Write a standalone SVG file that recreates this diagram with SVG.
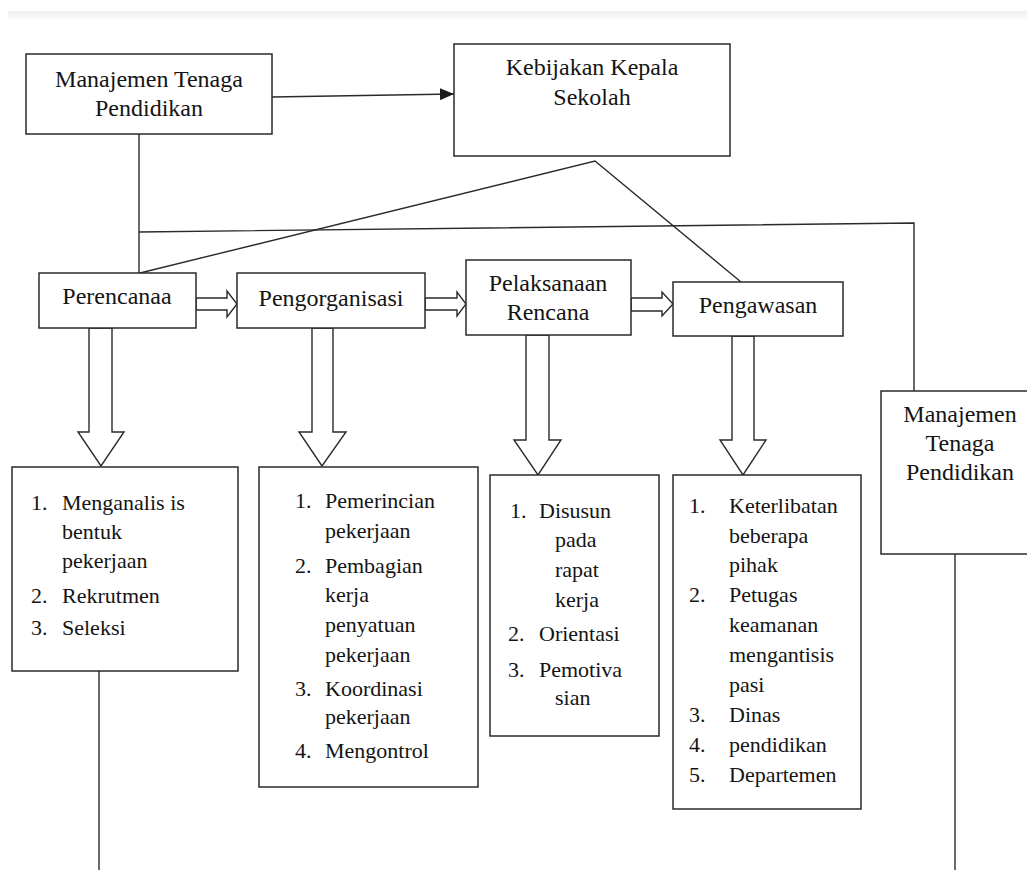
<svg xmlns="http://www.w3.org/2000/svg" width="1027" height="870" viewBox="0 0 1027 870">
<style>
.box{fill:#fff;stroke:#2a2a2a;stroke-width:1.5}
.ln{fill:none;stroke:#2a2a2a;stroke-width:1.4}
.ha{fill:#fff;stroke:#2a2a2a;stroke-width:1.4;stroke-linejoin:miter}
.lbl{font-family:'Liberation Serif','Times New Roman',serif;font-size:24px;fill:#141414;text-anchor:middle}
.li{font-family:'Liberation Serif','Times New Roman',serif;font-size:22px;fill:#141414}
</style>
<defs>
<linearGradient id="band" x1="0" y1="0" x2="0" y2="1">
<stop offset="0" stop-color="#efefef"/>
<stop offset="1" stop-color="#ffffff"/>
</linearGradient>
<marker id="ah" markerWidth="14" markerHeight="12" refX="14" refY="6" orient="auto" markerUnits="userSpaceOnUse">
<path d="M0,0 L14,6 L0,12 Z" fill="#1a1a1a"/>
</marker>
</defs>
<rect x="0" y="0" width="1027" height="870" fill="#fff"/>
<rect x="8" y="11" width="1019" height="10" fill="url(#band)"/>

<g id="connectors">
<line class="ln" x1="272" y1="97" x2="454" y2="94" marker-end="url(#ah)"/>
<polyline class="ln" points="139,134 139,273"/>
<polyline class="ln" points="139,232 914,223 914,391"/>
<polyline class="ln" points="140,273 595,161 741,282"/>
<line class="ln" x1="99" y1="671" x2="99" y2="870"/>
<line class="ln" x1="955" y1="554" x2="955" y2="870"/>
<polygon class="ha" points="196,298 227,298 227,291 237,304 227,317 227,310 196,310"/>
<polygon class="ha" points="425,298 457,298 457,292 466,304 457,316 457,310 425,310"/>
<polygon class="ha" points="631,298 662,298 662,292 673,304 662,316 662,311 631,311"/>
<polygon class="ha" points="89,328 89,432 78,432 101,466 124,432 112,432 112,328"/>
<polygon class="ha" points="312,328 312,432 299,432 322,466 346,432 333,432 333,328"/>
<polygon class="ha" points="526,335 526,440 514,440 538,475 561,440 549,440 549,335"/>
<polygon class="ha" points="732,336 732,440 720,440 743,475 766,440 754,440 754,336"/>
</g>

<g id="node-manajemen-top">
<rect class="box" x="26" y="54" width="246" height="80"/>
<text class="lbl" x="149" y="87">Manajemen Tenaga</text>
<text class="lbl" x="149" y="116">Pendidikan</text>
</g>

<g id="node-kebijakan">
<rect class="box" x="454" y="44" width="276" height="112"/>
<text class="lbl" x="592" y="75">Kebijakan Kepala</text>
<text class="lbl" x="592" y="105">Sekolah</text>
</g>

<g id="node-perencanaa">
<rect class="box" x="39" y="273" width="157" height="55"/>
<text class="lbl" x="117" y="304">Perencanaa</text>
</g>

<g id="node-pengorganisasi">
<rect class="box" x="237" y="273" width="188" height="55"/>
<text class="lbl" x="331" y="306">Pengorganisasi</text>
</g>

<g id="node-pelaksanaan">
<rect class="box" x="466" y="260" width="165" height="75"/>
<text class="lbl" x="548" y="291">Pelaksanaan</text>
<text class="lbl" x="548" y="320">Rencana</text>
</g>

<g id="node-pengawasan">
<rect class="box" x="673" y="282" width="170" height="54"/>
<text class="lbl" x="758" y="313">Pengawasan</text>
</g>

<g id="node-manajemen-right">
<rect class="box" x="881" y="391" width="160" height="163"/>
<text class="lbl" x="960" y="422">Manajemen</text>
<text class="lbl" x="960" y="451">Tenaga</text>
<text class="lbl" x="960" y="480">Pendidikan</text>
</g>

<g id="node-list-perencanaa">
<rect class="box" x="12" y="467" width="226" height="204"/>
<text class="li" x="31" y="510">1.</text>
<text class="li" x="62" y="510">Menganalis is</text>
<text class="li" x="62" y="539">bentuk</text>
<text class="li" x="62" y="568">pekerjaan</text>
<text class="li" x="31" y="603">2.</text>
<text class="li" x="62" y="603">Rekrutmen</text>
<text class="li" x="31" y="635">3.</text>
<text class="li" x="62" y="635">Seleksi</text>
</g>

<g id="node-list-pengorganisasi">
<rect class="box" x="259" y="467" width="219" height="320"/>
<text class="li" x="295" y="508">1.</text>
<text class="li" x="325" y="508">Pemerincian</text>
<text class="li" x="325" y="538">pekerjaan</text>
<text class="li" x="295" y="573">2.</text>
<text class="li" x="325" y="573">Pembagian</text>
<text class="li" x="325" y="602">kerja</text>
<text class="li" x="325" y="632">penyatuan</text>
<text class="li" x="325" y="662">pekerjaan</text>
<text class="li" x="295" y="696">3.</text>
<text class="li" x="325" y="696">Koordinasi</text>
<text class="li" x="325" y="724">pekerjaan</text>
<text class="li" x="295" y="758">4.</text>
<text class="li" x="325" y="758">Mengontrol</text>
</g>

<g id="node-list-pelaksanaan">
<rect class="box" x="490" y="475" width="169" height="261"/>
<text class="li" x="510" y="518">1.</text>
<text class="li" x="539" y="518">Disusun</text>
<text class="li" x="555" y="547">pada</text>
<text class="li" x="555" y="577">rapat</text>
<text class="li" x="555" y="607">kerja</text>
<text class="li" x="508" y="641">2.</text>
<text class="li" x="539" y="641">Orientasi</text>
<text class="li" x="508" y="677">3.</text>
<text class="li" x="539" y="677">Pemotiva</text>
<text class="li" x="555" y="705">sian</text>
</g>

<g id="node-list-pengawasan">
<rect class="box" x="673" y="475" width="188" height="334"/>
<text class="li" x="689" y="513">1.</text>
<text class="li" x="729" y="513">Keterlibatan</text>
<text class="li" x="729" y="543">beberapa</text>
<text class="li" x="729" y="572">pihak</text>
<text class="li" x="689" y="602">2.</text>
<text class="li" x="729" y="602">Petugas</text>
<text class="li" x="729" y="632">keamanan</text>
<text class="li" x="729" y="662">mengantisis</text>
<text class="li" x="729" y="692">pasi</text>
<text class="li" x="689" y="722">3.</text>
<text class="li" x="729" y="722">Dinas</text>
<text class="li" x="689" y="752">4.</text>
<text class="li" x="729" y="752">pendidikan</text>
<text class="li" x="689" y="782">5.</text>
<text class="li" x="729" y="782">Departemen</text>
</g>
</svg>
